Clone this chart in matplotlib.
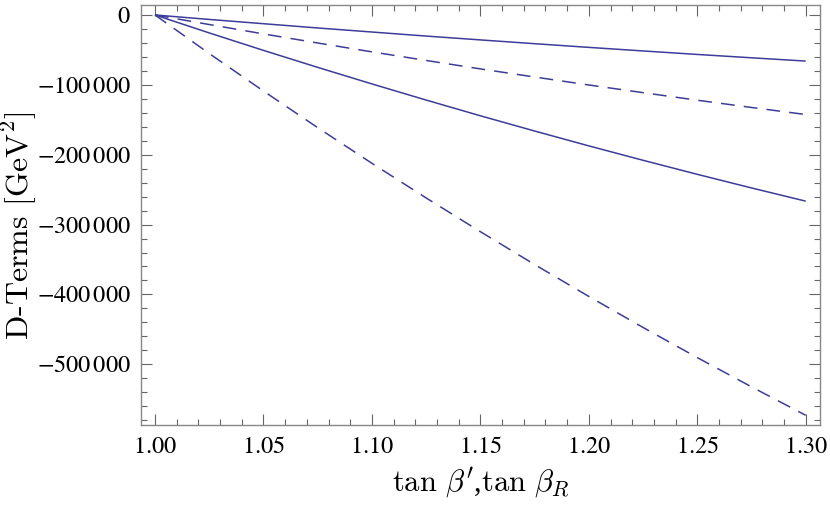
import matplotlib
matplotlib.use("Agg")
import matplotlib.pyplot as plt
from matplotlib.ticker import MultipleLocator, FuncFormatter

plt.rcParams.update({"font.family": "Liberation Serif", "mathtext.fontset": "stix"})

# tan(beta) grid and D-term values (GeV^2)
tanb = [1.000, 1.025, 1.050, 1.075, 1.100, 1.125, 1.150, 1.175, 1.200,
        1.225, 1.250, 1.275, 1.300]
solid_top = [0, -6400, -12500, -18600, -24400, -30200, -35700, -41100,
             -46400, -51500, -56500, -61300, -66000]
dashed_top = [0, -13700, -27100, -40100, -52800, -65100, -77200, -88800,
              -100200, -111200, -122000, -132400, -142500]
solid_low = [0, -25700, -50700, -75000, -98700, -121800, -144300, -166100,
             -187400, -208000, -228100, -247600, -266500]
dashed_low = [0, -55200, -108900, -161300, -212300, -261900, -310200, -357200,
              -402900, -447300, -490400, -532300, -573000]

LINE = "#3d3d99"
FRAME = "#888888"

fig = plt.figure(figsize=(8.3, 5.08), dpi=100)
ax = fig.add_axes([0.1699, 0.1634, 0.8181, 0.8268])

for ys, dashed in [(solid_top, False), (dashed_top, True),
                   (solid_low, False), (dashed_low, True)]:
    ln, = ax.plot(tanb, ys, color=LINE, lw=1.1, solid_capstyle="butt")
    if dashed:
        ln.set_dashes((9.0, 6.0))

ax.set_xlim(0.99355, 1.3066)
ax.set_ylim(-586900, 14300)

ax.xaxis.set_major_locator(MultipleLocator(0.05))
ax.xaxis.set_minor_locator(MultipleLocator(0.01))
ax.yaxis.set_major_locator(MultipleLocator(100000))
ax.yaxis.set_minor_locator(MultipleLocator(20000))
ax.xaxis.set_major_formatter(FuncFormatter(lambda v, p: f"${v:.2f}$"))

def yfmt(v, p):
    n = int(round(v))
    if n == 0:
        return "$0$"
    s = f"{abs(n):,}".replace(",", r"\,")
    return "$" + ("-" if n < 0 else "") + s + "$"

ax.yaxis.set_major_formatter(FuncFormatter(yfmt))

ax.tick_params(which="both", direction="in", top=True, right=True,
               color="#666666", width=0.8, labelsize=17.5, labelcolor="black")
ax.tick_params(which="major", length=8)
ax.tick_params(axis="x", which="major", pad=9)
ax.tick_params(axis="y", which="major", pad=7.5)
ax.tick_params(which="minor", length=4.5)
for s in ax.spines.values():
    s.set_color(FRAME)
    s.set_linewidth(1.0)

xl = ax.set_xlabel(r"$\tan\,\beta'$,$\tan\,\beta_R$", fontsize=22)
xl.set_math_fontfamily("cm")
ax.xaxis.set_label_coords(0.5, -0.097)
yl = ax.set_ylabel(r"D-Terms [GeV$^2$]", fontsize=23, family="cmr10")
yl.set_math_fontfamily("cm")
ax.yaxis.set_label_coords(-0.150, 0.474)

fig.savefig("out.png", dpi=100)
